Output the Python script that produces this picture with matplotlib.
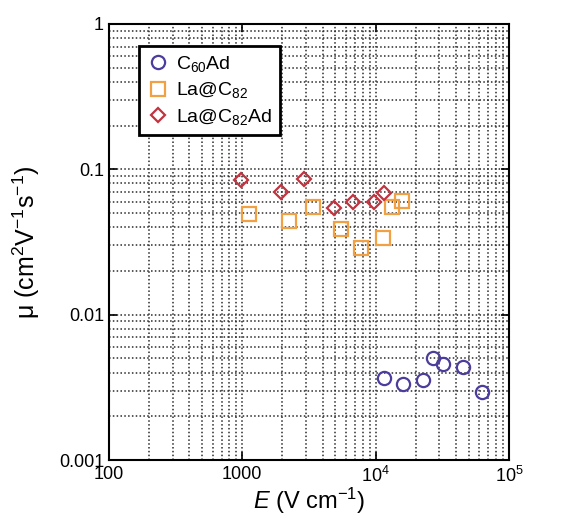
import matplotlib
matplotlib.use('Agg')
import matplotlib.pyplot as plt
from matplotlib.ticker import FixedLocator, FixedFormatter, LogLocator, NullFormatter

plt.rcParams['font.family'] = ['Liberation Sans', 'DejaVu Sans']
plt.rcParams['mathtext.fontset'] = 'custom'
plt.rcParams['mathtext.rm'] = 'Liberation Sans'
plt.rcParams['mathtext.it'] = 'Liberation Sans:italic'

# C60Ad
e_c60 = [11600, 16000, 22800, 27100, 32200, 45500, 62400]
mu_c60 = [0.00368, 0.00333, 0.00355, 0.0050, 0.00457, 0.00438, 0.00295]

# La@C82
e_la = [1130, 2230, 3410, 5500, 7730, 11300, 13300, 15800]
mu_la = [0.049, 0.0443, 0.0553, 0.0386, 0.0289, 0.0337, 0.0553, 0.0602]

# La@C82Ad
e_laad = [980, 1940, 2900, 4900, 6800, 9730, 11600]
mu_laad = [0.0844, 0.0701, 0.0853, 0.0539, 0.0593, 0.0596, 0.069]

xticks = [100, 1000, 1e4, 1e5]
xlabels = ['100', '1000', r'10$^4$', r'10$^5$']
yticks = [0.001, 0.01, 0.1, 1]
ylabels = ['0.001', '0.01', '0.1', '1']

fig = plt.figure(figsize=(5.7, 5.16), dpi=100)
ax = fig.add_axes([0.191, 0.1085, 0.702, 0.845])

ax.plot(e_c60, mu_c60, 'o', ms=9.5, mfc='none', mec='#4b3d9c', mew=1.6,
        label=r'C$_{60}$Ad')
ax.plot(e_la, mu_la, 's', ms=9.5, mfc='none', mec='#f2a044', mew=1.6,
        label=r'La@C$_{82}$')
ax.plot(e_laad, mu_laad, 'D', ms=7.5, mfc='none', mec='#c23340', mew=1.6,
        label=r'La@C$_{82}$Ad')

ax.set_xscale('log')
ax.set_yscale('log')
ax.set_xlim(100, 1e5)
ax.set_ylim(0.001, 1)

ax.xaxis.set_major_locator(FixedLocator(xticks))
ax.xaxis.set_major_formatter(FixedFormatter(xlabels))
ax.yaxis.set_major_locator(FixedLocator(yticks))
ax.yaxis.set_major_formatter(FixedFormatter(ylabels))
ax.xaxis.set_minor_locator(LogLocator(base=10, subs=range(2, 10)))
ax.yaxis.set_minor_locator(LogLocator(base=10, subs=range(2, 10)))
ax.xaxis.set_minor_formatter(NullFormatter())
ax.yaxis.set_minor_formatter(NullFormatter())

ax.grid(True, which='both', linestyle=(0, (1, 1.5)), color='#2a2a2a', lw=1.1)
ax.tick_params(which='both', direction='in', top=True, right=True,
               labelsize=13, width=1.2)
ax.tick_params(which='major', length=6)
ax.tick_params(which='minor', length=0)
ax.tick_params(axis='x', pad=4)
for s in ax.spines.values():
    s.set_linewidth(1.5)

ax.set_xlabel(r'$E$ (V cm$^{-1}$)', fontsize=17, labelpad=0)
ax.set_ylabel(r'μ (cm$^2$V$^{-1}$s$^{-1}$)', fontsize=18, labelpad=12)

leg = ax.legend(loc='upper left', bbox_to_anchor=(0.075, 0.95), fontsize=14,
                frameon=True, fancybox=False, framealpha=1, edgecolor='black',
                handletextpad=0.3, borderpad=0.4, labelspacing=0.35,
                handlelength=1.2, borderaxespad=0)
leg.get_frame().set_linewidth(2)

fig.savefig('out.png', dpi=100)
